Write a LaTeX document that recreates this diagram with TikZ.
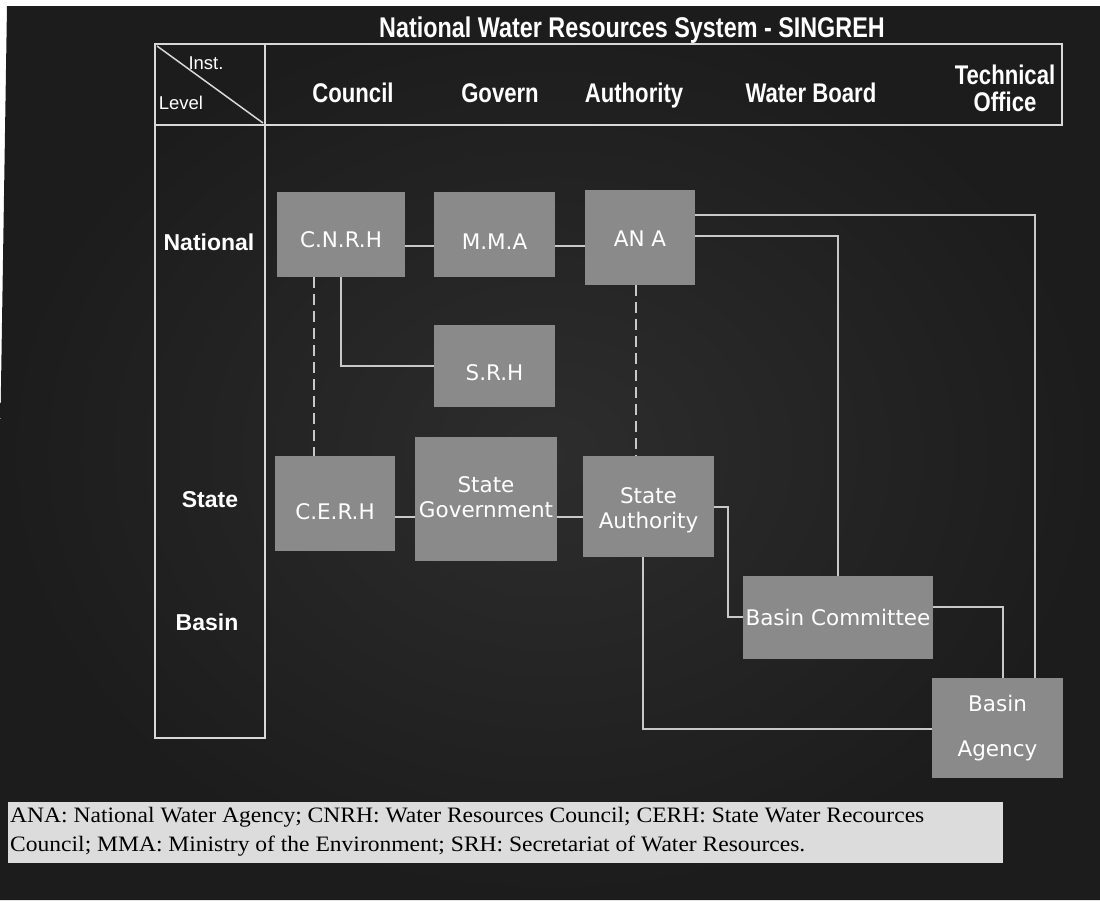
\documentclass[tikz,border=0pt]{standalone}
\usepackage{fontspec}
\setmainfont{Liberation Serif}
\newfontfamily\legfont[FakeStretch=1.07]{Liberation Serif}
\newfontfamily\narrowbold[FakeStretch=0.82]{Liberation Sans Bold}
\newfontfamily\arialb{Liberation Sans Bold}
\newfontfamily\arialr{Liberation Sans}
\newfontfamily\verd{DejaVu Sans}
\definecolor{bgdark}{HTML}{1C1C1C}
\definecolor{bgmid}{HTML}{2D2D2D}
\definecolor{boxgrey}{HTML}{8A8A8A}
\definecolor{linegrey}{HTML}{C8C8C8}
\definecolor{framegrey}{HTML}{D8D8D8}
\definecolor{legendfill}{HTML}{DCDCDC}
\newcommand{\lowr}[2]{\raisebox{-#1}[\height][\depth]{#2}}
\begin{document}
\begin{tikzpicture}[x=1pt,y=-1pt,
  orgbox/.style={fill=boxgrey,draw=none,inner sep=0pt,text=white,align=center,
    font=\verd\fontsize{21.5}{25}\selectfont},
  conn/.style={draw=linegrey,line width=2pt},
  dconn/.style={draw=linegrey,line width=2.5pt,dash pattern=on 11pt off 6pt},
  frame/.style={draw=framegrey,line width=1.8pt},
  colhead/.style={text=white,font=\narrowbold\fontsize{27}{27}\selectfont,align=center,inner sep=0pt},
  rowhead/.style={text=white,font=\arialb\fontsize{23}{23}\selectfont,inner sep=0pt},
  small/.style={text=white,font=\arialr\fontsize{18.5}{18.5}\selectfont,inner sep=0pt}
]
\useasboundingbox (0,0) rectangle (1100,900);
\fill[white] (0,0) rectangle (1100,900);
\shade[inner color=bgmid,outer color=bgdark,shading=radial] (7,6) -- (1100,6) -- (1100,900) -- (0,900) -- (0,450) -- cycle;

% title
\node[text=white,font=\narrowbold\fontsize{28.5}{28.5}\selectfont,inner sep=0pt] (title) at (632,30) {National Water Resources System - SINGREH};

% frame
\draw[frame] (155,44) rectangle (1062,125);
\draw[frame] (155,125) rectangle (265,738);
\draw[frame] (265,44) -- (265,125);
\coordinate (dA) at (157,46);
\coordinate (dB) at (263,123);
\draw[draw=framegrey,line width=1.5pt] (dA) -- (dB);
\node[small] (inst) at (206,63) {Inst.};
\node[small] (level) at (181,103) {Level};

% column headings
\node[colhead,anchor=base] (hcouncil) at (353,102) {Council};
\node[colhead,anchor=base] (hgovern) at (500,102) {Govern};
\node[colhead,anchor=base] (hauth) at (634,102) {Authority};
\node[colhead,anchor=base] (hwater) at (811,102) {Water Board};
\node[colhead] (htech) at (1005,88.7) {Technical\\Office};

% row headings
\node[rowhead] (rnat) at (209,242) {National};
\node[rowhead] (rstate) at (210,500) {State};
\node[rowhead] (rbasin) at (207,622) {Basin};

% boxes
\node[orgbox,minimum width=128pt,minimum height=85pt] (cnrh) at (341,234.5) {\lowr{5.5pt}{C.N.R.H}};
\node[orgbox,minimum width=121pt,minimum height=85pt] (mma) at (494.5,234.5) {\lowr{7pt}{M.M.A}};
\node[orgbox,minimum width=110pt,minimum height=95pt] (ana) at (640,237.5) {\lowr{1.5pt}{AN A}};
\node[orgbox,minimum width=121pt,minimum height=82pt] (srh) at (494.5,366) {\lowr{7pt}{S.R.H}};
\node[orgbox,minimum width=120pt,minimum height=95pt] (cerh) at (335,503.5) {\lowr{8.5pt}{C.E.R.H}};
\node[orgbox,minimum width=142pt,minimum height=124pt] (sgov) at (486,499) {\lowr{1pt}{\begin{tabular}{@{}c@{}}State\\Government\end{tabular}}};
\node[orgbox,minimum width=131pt,minimum height=101pt] (sauth) at (648.5,506.5) {\lowr{4pt}{\begin{tabular}{@{}c@{}}State\\Authority\end{tabular}}};
\node[orgbox,minimum width=190pt,minimum height=83pt] (bcom) at (838,617.5) {Basin Committee};
\node[orgbox,minimum width=131pt,minimum height=100pt] (bag) at (997.5,728) {Basin\\[20pt]Agency};

% connectors
\draw[conn] (cnrh.east |- 0,246) -- (mma.west |- 0,246);
\draw[conn] (mma.east |- 0,246) -- (ana.west |- 0,246);
\draw[conn] (cnrh.south -| 341,0) -- (341,366) -- (srh.west |- 0,366);
\draw[dconn] (cnrh.south -| 314,0) -- (cerh.north -| 314,0);
\draw[dconn] (ana.south -| 636,0) -- (sauth.north -| 636,0);
\draw[conn] (cerh.east |- 0,517) -- (sgov.west |- 0,517);
\draw[conn] (sgov.east |- 0,517) -- (sauth.west |- 0,517);
\draw[conn] (sauth.east |- 0,507) -- (728,507) -- (728,617) -- (bcom.west |- 0,617);
\draw[conn] (sauth.south -| 643,0) -- (643,729) -- (bag.west |- 0,729);
\draw[conn] (ana.east |- 0,215) -- (1035,215) -- (bag.north -| 1035,0);
\draw[conn] (ana.east |- 0,236) -- (838,236) -- (bcom.north -| 838,0);
\draw[conn] (bcom.east |- 0,607) -- (1003,607) -- (bag.north -| 1003,0);

% legend
\node[fill=legendfill,draw=none,minimum width=995pt,minimum height=61pt,inner sep=0pt,anchor=north west] (legbox) at (8,802) {};
\node[anchor=west,inner sep=0pt,text=black,font=\legfont\fontsize{22}{29}\selectfont,align=left] (legend) at (10,832) {ANA: National Water Agency; CNRH: Water Resources Council; CERH: State Water Recources\\Council; MMA: Ministry of the Environment; SRH: Secretariat of Water Resources.};
\end{tikzpicture}
\end{document}
